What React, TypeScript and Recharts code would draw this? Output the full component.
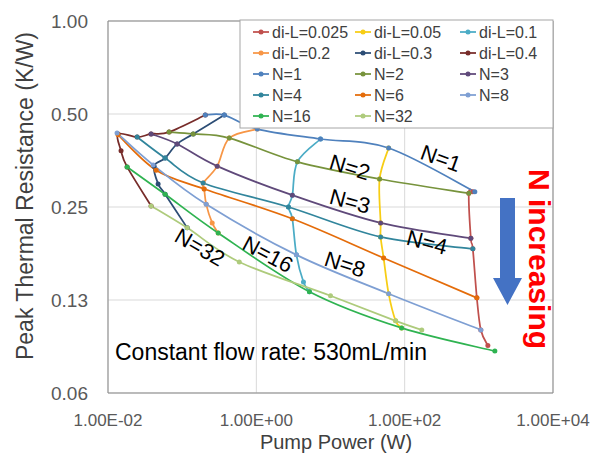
import React from "react";
import { LineChart, Line, XAxis, YAxis, CartesianGrid, ReferenceArea } from "recharts";

// [pump power (W), peak thermal resistance (K/W)]
const diL0025 = [[830, 0.28], [733, 0.277], [780, 0.198], [830, 0.183], [940, 0.127], [1064, 0.1], [1324, 0.089]];
const diL005 = [[60.8, 0.388], [45.9, 0.308], [47.4, 0.222], [47.4, 0.2], [52, 0.171], [60.8, 0.131], [75.5, 0.107], [91, 0.1015]];
const diL01 = [[7.33, 0.415], [3.58, 0.35], [3.06, 0.273], [2.71, 0.25], [3.06, 0.229], [3.47, 0.175], [4.32, 0.143], [5.2, 0.133]];
const diL02 = [[1.03, 0.447], [0.432, 0.418], [0.297, 0.339], [0.192, 0.299], [0.198, 0.286], [0.211, 0.255], [0.254, 0.222], [0.306, 0.206]];
const diL03 = [[0.37, 0.496], [0.141, 0.431], [0.0855, 0.4], [0.0589, 0.36], [0.0418, 0.339], [0.0474, 0.297], [0.0589, 0.275], [0.117, 0.214]];
const diL04 = [[0.205, 0.496], [0.0667, 0.437], [0.0381, 0.431], [0.0247, 0.421], [0.01365, 0.431], [0.015, 0.38], [0.0181, 0.337], [0.0381, 0.252]];
const n1 = [[0.205, 0.496], [0.37, 0.496], [1.03, 0.447], [7.33, 0.415], [60.8, 0.388], [883, 0.28]];
const n2 = [[0.0667, 0.437], [0.141, 0.431], [0.432, 0.418], [3.58, 0.35], [45.9, 0.308], [733, 0.277]];
const n3 = [[0.0381, 0.431], [0.0855, 0.4], [0.297, 0.339], [3.06, 0.273], [47.4, 0.222], [780, 0.198]];
const n4 = [[0.0247, 0.421], [0.0589, 0.36], [0.192, 0.299], [2.71, 0.25], [47.4, 0.2], [830, 0.183]];
const n6 = [[0.01365, 0.428], [0.0446, 0.329], [0.198, 0.286], [3.06, 0.229], [52, 0.171], [940, 0.127]];
const n8 = [[0.01324, 0.434], [0.0406, 0.342], [0.211, 0.255], [3.47, 0.175], [60.8, 0.131], [1064, 0.1]];
const n16 = [[0.0181, 0.337], [0.0589, 0.275], [0.306, 0.206], [5.2, 0.133], [91, 0.1015], [1645, 0.0854]];
const n32 = [[0.0381, 0.252], [0.117, 0.214], [0.589, 0.166], [10, 0.129], [75.5, 0.107], [170, 0.1]];

const seriesNames = [
  "di-L=0.025", "di-L=0.05", "di-L=0.1", "di-L=0.2", "di-L=0.3", "di-L=0.4",
  "N=1", "N=2", "N=3", "N=4", "N=6", "N=8", "N=16", "N=32",
];
const seriesData = [diL0025, diL005, diL01, diL02, diL03, diL04, n1, n2, n3, n4, n6, n8, n16, n32];
const seriesColors = [
  "#c0504d", "#f7cd14", "#4bacc6", "#f79646", "#2c4d75", "#772c2a",
  "#4f81bd", "#77933c", "#5f497a", "#31859c", "#e46c0a", "#7e9fd3", "#2fb351", "#aecb7c",
];

const xTicks = [0.01, 1, 100, 10000];
const xTickLabels = ["1.00E-02", "1.00E+00", "1.00E+02", "1.00E+04"];
const yTicks = [0.0625, 0.125, 0.25, 0.5, 1];
const yTickLabels = ["0.06", "0.13", "0.25", "0.50", "1.00"];

// in-plot labels: text, centre x, centre y, rotation
const curveLabels: [string, number, number, number][] = [
  ["N=1", 433, 150, 20],
  ["N=2", 342, 159, 17],
  ["N=3", 342, 193, 15],
  ["N=4", 419, 234, 15],
  ["N=8", 337, 256, 18],
  ["N=16", 260, 246, 28],
  ["N=32", 192, 239, 30],
];

const W = 592;
const H = 447;
const FONT = "'Liberation Sans', Arial, sans-serif";

// Catmull-Rom style smoothing, close to Excel's "smoothed line"
const smooth = (ctx: any) => {
  let pts: number[][] = [];
  return {
    areaStart() {},
    areaEnd() {},
    lineStart() {
      pts = [];
    },
    point(x: number, y: number) {
      pts.push([+x, +y]);
    },
    lineEnd() {
      const n = pts.length;
      if (!n) return;
      ctx.moveTo(pts[0][0], pts[0][1]);
      for (let i = 0; i < n - 1; i++) {
        const p0 = pts[Math.max(i - 1, 0)];
        const p1 = pts[i];
        const p2 = pts[i + 1];
        const p3 = pts[Math.min(i + 2, n - 1)];
        ctx.bezierCurveTo(
          p1[0] + (p2[0] - p0[0]) / 6, p1[1] + (p2[1] - p0[1]) / 6,
          p2[0] - (p3[0] - p1[0]) / 6, p2[1] - (p3[1] - p1[1]) / 6,
          p2[0], p2[1]
        );
      }
    },
  };
};

function LegendBox() {
  const colX = [245, 347, 452];
  const rowY = [24, 45, 66, 87, 108];
  return (
    <g>
      <rect x={232} y={12} width={313} height={108} fill="#fff" stroke="#a6a6a6" strokeWidth={1} />
      {seriesNames.map((name, i) => {
        const x = colX[i % 3];
        const y = rowY[Math.floor(i / 3)];
        return (
          <g key={name}>
            <line x1={x} x2={x + 16} y1={y} y2={y} stroke={seriesColors[i]} strokeWidth={1.75} />
            <circle cx={x + 8} cy={y} r={2.5} fill={seriesColors[i]} />
            <text x={x + 19} y={y + 5.7} fontSize={16} fill="#404040" fontFamily={FONT}>
              {name}
            </text>
          </g>
        );
      })}
    </g>
  );
}

export default function App() {
  const series = seriesNames.map((name, i) => ({
    name,
    color: seriesColors[i],
    data: seriesData[i].map(([x, y]) => ({ x, y })),
  }));

  return (
    <div style={{ position: "relative", width: W, height: H, fontFamily: FONT }}>
      <LineChart width={W} height={H} margin={{ top: 13, right: 47, bottom: 0, left: 0 }}>
        <CartesianGrid stroke="#d9d9d9" />
        <XAxis
          type="number"
          dataKey="x"
          scale="log"
          domain={[0.01, 10000]}
          ticks={xTicks}
          allowDataOverflow
          height={62}
          axisLine={false}
          tickLine={false}
          tickSize={0}
          tickMargin={21}
          tick={{ fontSize: 17, fill: "#595959", fontFamily: FONT }}
          tickFormatter={(v: number) => xTickLabels[xTicks.indexOf(v)] ?? ""}
        />
        <YAxis
          type="number"
          dataKey="y"
          scale="log"
          domain={[0.0625, 1]}
          ticks={yTicks}
          allowDataOverflow
          width={100}
          axisLine={false}
          tickLine={false}
          tickSize={0}
          tickMargin={20}
          tick={{ fontSize: 19, fill: "#595959", fontFamily: FONT }}
          tickFormatter={(v: number) => yTickLabels[yTicks.indexOf(v)] ?? ""}
        />
        <ReferenceArea x1={0.01} x2={10000} y1={0.0625} y2={1} fill="none" stroke="#898989" strokeWidth={1} />
        {series.map((s) => (
          <Line
            key={s.name}
            name={s.name}
            data={s.data}
            dataKey="y"
            type={smooth as any}
            stroke={s.color}
            strokeWidth={1.75}
            dot={{ r: 2.5, fill: s.color, stroke: s.color, strokeWidth: 0 }}
            activeDot={false}
            isAnimationActive={false}
          />
        ))}
      </LineChart>
      <svg
        width={W}
        height={H}
        style={{ position: "absolute", left: 0, top: 0, pointerEvents: "none" }}
      >
        <LegendBox />
        {curveLabels.map(([t, x, y, r]) => (
          <text
            key={t}
            x={0}
            y={7.9}
            transform={`translate(${x},${y}) rotate(${r})`}
            textAnchor="middle"
            fontSize={22}
            fill="#000"
            fontFamily={FONT}
          >
            {t}
          </text>
        ))}
        <text x={107} y={352} fontSize={23} fill="#000" fontFamily={FONT}>
          Constant flow rate: 530mL/min
        </text>
        <polygon points="492,190 507,190 507,270 514,270 499.5,297 485,270 492,270" fill="#4472c4" />
        <text
          x={0}
          y={0}
          transform="translate(521,251) rotate(90)"
          textAnchor="middle"
          fontSize={30}
          fontWeight="bold"
          fill="#ff0000"
          fontFamily={FONT}
        >
          N increasing
        </text>
        <text
          x={0}
          y={0}
          transform="translate(25,188) rotate(-90)"
          textAnchor="middle"
          fontSize={23}
          fill="#404040"
          fontFamily={FONT}
        >
          Peak Thermal Resistance (K/W)
        </text>
        <text x={328} y={441} textAnchor="middle" fontSize={20} fill="#404040" fontFamily={FONT}>
          Pump Power (W)
        </text>
      </svg>
    </div>
  );
}
